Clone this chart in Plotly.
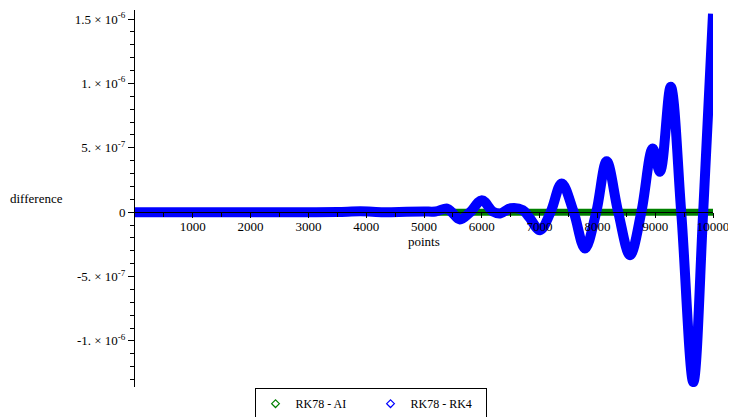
import plotly.graph_objects as go

# RK78 - AI (essentially zero over the whole range)
ai_x = [0, 1000, 2000, 3000, 4000, 5000, 6000, 7000, 8000, 9000, 10000]
ai_y = [0, 0, 0, 0, 0, 0, 0, 0, 0, 0, 0]

# RK78 - RK4 (in units of 1e-7)
rk4_x = [0, 500, 1000, 1500, 2000, 2500, 3000, 3500, 3900, 4300, 4700, 5000, 5200,
         5400, 5480, 5620, 5800, 6000, 6190, 6320, 6500, 6710, 6820, 7007, 7190,
         7382, 7590, 7785, 7980, 8160, 8360, 8564, 8760, 8957, 9083, 9268, 9450,
         9659, 9830, 10000]
rk4_y_e7 = [0, 0, 0, 0, 0, 0, 0, 0.01, 0.07, 0.0, 0.03, 0.05, 0.05,
            0.28, 0.0, -0.57, 0.0, 0.93, 0.05, -0.1, 0.3, 0.15, -0.4, -1.4, 0.0,
            2.23, 0.0, -2.83, 0.0, 3.95, 0.0, -3.34, 0.0, 4.95, 3.13, 9.74, 0.0,
            -13.2, 0.0, 15.4]
rk4_y = [v * 1e-7 for v in rk4_y_e7]

x_major = [1000, 2000, 3000, 4000, 5000, 6000, 7000, 8000, 9000, 10000]
x_labels = ["1000", "2000", "3000", "4000", "5000", "6000", "7000", "8000", "9000", "10000"]
x_minor = [500 * i for i in range(1, 21)]

y_major = [-1e-6, -5e-7, 0, 5e-7, 1e-6, 1.5e-6]
y_labels = ["-1. × 10<sup>-6</sup>", "-5. × 10<sup>-7</sup>", "0",
            "5. × 10<sup>-7</sup>", "1. × 10<sup>-6</sup>", "1.5 × 10<sup>-6</sup>"]
y_minor = [i * 1e-7 for i in range(-13, 16)]

YMIN, YMAX = -1.358e-6, 1.57e-6
GREEN = "#008000"
BLUE = "#0000FF"
FONT = "Liberation Serif"

fig = go.Figure()
fig.add_trace(go.Scatter(x=ai_x, y=ai_y, mode="lines",
                         line=dict(color=GREEN, width=7), showlegend=False, hoverinfo="skip"))
fig.add_trace(go.Scatter(x=rk4_x, y=rk4_y, mode="lines",
                         line=dict(color=BLUE, width=10, shape="spline", smoothing=1.0),
                         showlegend=False, hoverinfo="skip"))
# legend entries
fig.add_trace(go.Scatter(x=[None], y=[None], mode="markers", name="RK78 - AI",
                         marker=dict(symbol="diamond-open", color=GREEN, size=6, line=dict(width=1.2))))
fig.add_trace(go.Scatter(x=[None], y=[None], mode="markers", name="RK78 - RK4",
                         marker=dict(symbol="diamond-open", color=BLUE, size=6, line=dict(width=1.2))))

zero_pos = (0 - YMIN) / (YMAX - YMIN)

fig.update_layout(
    width=736, height=417,
    margin=dict(l=127, r=31, t=2, b=38, autoexpand=False),
    plot_bgcolor="white", paper_bgcolor="white",
    font=dict(family=FONT, size=13, color="black"),
    xaxis=dict(range=[0, 10000], anchor="free", position=zero_pos,
               showgrid=False, zeroline=False, showline=True, linecolor="black", linewidth=1,
               tickmode="array", tickvals=x_major, ticktext=x_labels,
               ticks="outside", ticklen=5, tickcolor="black", tickwidth=1,
               ticklabelstandoff=-3,
               minor=dict(tickmode="array", tickvals=x_minor, ticks="outside", ticklen=4,
                          tickcolor="black", tickwidth=1, showgrid=False),
               tickfont=dict(family=FONT, size=13),
               automargin=False),
    yaxis=dict(range=[YMIN, YMAX], showgrid=False, zeroline=False, showline=True,
               linecolor="black", linewidth=1,
               tickmode="array", tickvals=y_major, ticktext=y_labels,
               ticks="outside", ticklen=6, tickcolor="black", tickwidth=1,
               minor=dict(tickmode="array", tickvals=y_minor, ticks="outside", ticklen=4,
                          tickcolor="black", tickwidth=1, showgrid=False),
               tickfont=dict(family=FONT, size=13),
               automargin=False),
    legend=dict(orientation="h", x=0.4075, xanchor="center", y=-0.003, yanchor="top",
                bordercolor="black", borderwidth=1, bgcolor="white",
                font=dict(family=FONT, size=12), itemwidth=30, tracegroupgap=0,
                entrywidth=70, entrywidthmode="pixels"),
    annotations=[
        dict(text="difference", x=-0.171, y=0.499, xref="paper", yref="paper",
             showarrow=False, font=dict(family=FONT, size=13),
             xanchor="center", yanchor="middle"),
        dict(text="points", x=0.5, y=0.387, xref="paper", yref="paper",
             showarrow=False, font=dict(family=FONT, size=13),
             xanchor="center", yanchor="middle"),
    ],
)

fig.write_html("out.html")
